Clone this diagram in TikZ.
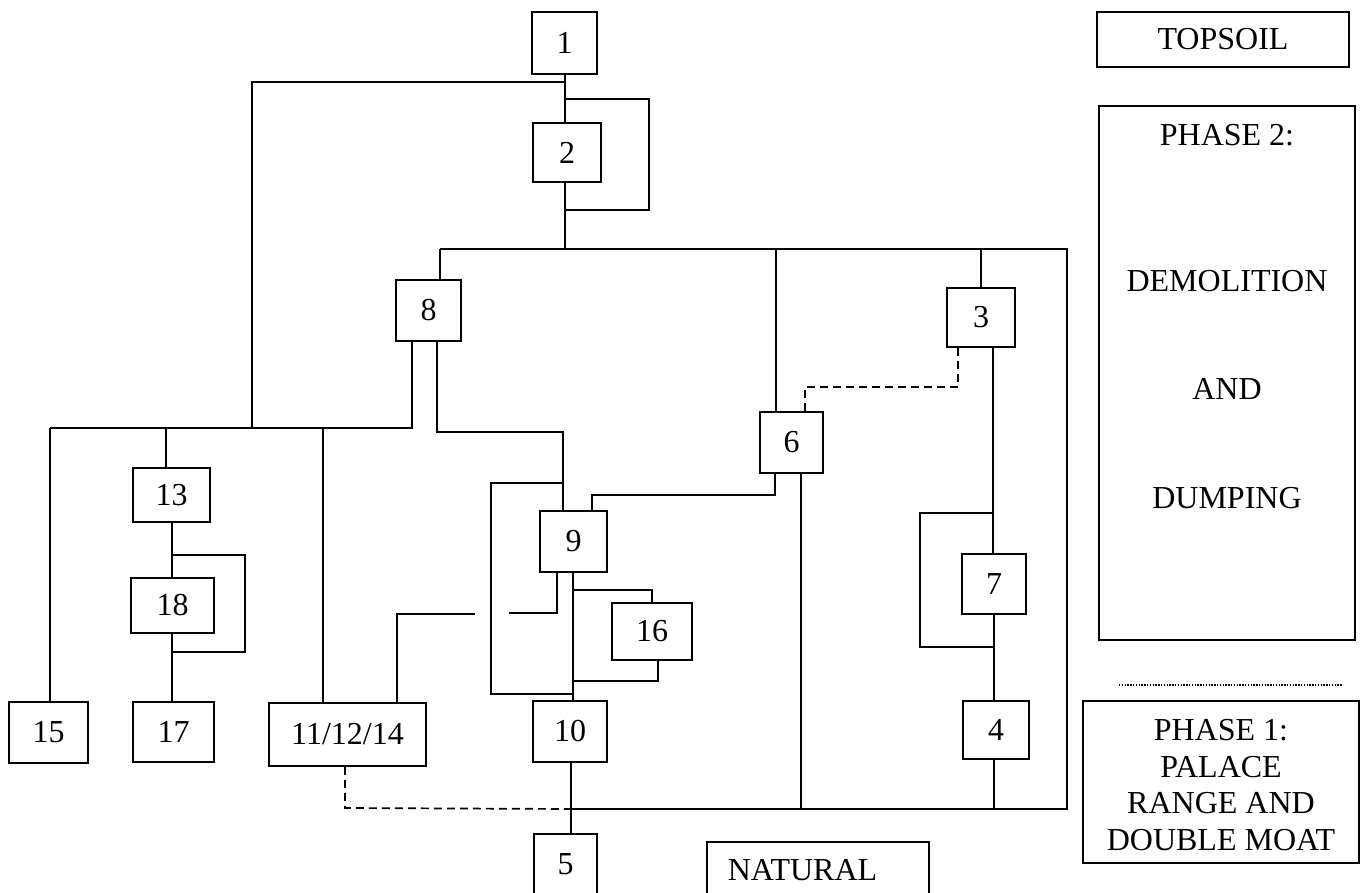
\documentclass[tikz,border=0pt]{standalone}
\usepackage{fontspec}
\setmainfont{Liberation Serif}
\begin{document}
\begin{tikzpicture}[x=1pt,y=-1pt,line width=1.7pt,
  txt/.style={font=\fontsize{32}{36.7}\selectfont, inner sep=0pt},
  box/.style={txt, draw, line width=1.7pt},
  dashline/.style={dash pattern=on 8pt off 5pt},
  dotline/.style={line width=1.4pt, dash pattern=on 1.4pt off 1.4pt}]
\clip (0,0) rectangle (1365,893);

% context boxes
\node[box, minimum width=65pt, minimum height=62pt] (n1) at (564.5,43) {1};
\node[box, minimum width=68pt, minimum height=59pt] (n2) at (567,152.5) {2};
\node[box, minimum width=65pt, minimum height=61pt] (n8) at (428.5,310.5) {8};
\node[box, minimum width=68pt, minimum height=59pt] (n3) at (981,317.5) {3};
\node[box, minimum width=63pt, minimum height=61pt] (n6) at (791.5,442.5) {6};
\node[box, minimum width=77pt, minimum height=54pt] (n13) at (171.5,495) {13};
\node[box, minimum width=83pt, minimum height=55pt] (n18) at (172.5,605.5) {18};
\node[box, minimum width=67pt, minimum height=61pt] (n9) at (573.5,541.5) {9};
\node[box, minimum width=80pt, minimum height=57pt] (n16) at (652,631.5) {16};
\node[box, minimum width=64pt, minimum height=60pt] (n7) at (994,584) {7};
\node[box, minimum width=79pt, minimum height=61pt] (n15) at (48.5,732.5) {15};
\node[box, minimum width=81pt, minimum height=60pt] (n17) at (173.5,732) {17};
\node[box, minimum width=157pt, minimum height=63pt] (n111214) at (347.5,734.5) {11/12/14};
\node[box, minimum width=74pt, minimum height=61pt] (n10) at (570,731.5) {10};
\node[box, minimum width=66pt, minimum height=58pt] (n4) at (996,730) {4};
\node[box, minimum width=63pt, minimum height=60pt] (n5) at (565.5,864) {5};

% natural
\node[box, anchor=north west, minimum width=222pt, minimum height=80pt] (natural) at (706,841) {};
\node[txt, anchor=base west] (naturaltext) at (727,880) {NATURAL};

% key
\node[box, minimum width=252pt, minimum height=55pt] (topsoil) at (1223,39.5) {TOPSOIL};
\node[box, minimum width=256pt, minimum height=534pt] (phase2) at (1227,373) {};
\node[txt] (p2a) at (1227,135) {PHASE 2:};
\node[txt] (p2b) at (1227,281) {DEMOLITION};
\node[txt] (p2c) at (1227,389) {AND};
\node[txt] (p2d) at (1227,498) {DUMPING};
\node[box, minimum width=276pt, minimum height=162pt] (phase1) at (1221,782) {};
\node[txt, align=center] (phase1text) at (1221,785) {PHASE 1:\\PALACE\\RANGE AND\\DOUBLE MOAT};
\coordinate (f1) at (1119,685);
\coordinate (f2) at (1343,685);
\draw[dotline] (f1) -- (f2);

% rails and junctions
\coordinate (r1) at (565,0);
\coordinate (j1) at (565,82);
\coordinate (k1) at (252,82);
\coordinate (k2) at (252,428);
\coordinate (j2) at (565,99);
\coordinate (k3) at (649,210);
\coordinate (j3) at (565,210);
\coordinate (j4) at (565,249);
\coordinate (b1) at (440,249);
\coordinate (b2) at (1067,249);
\coordinate (b3) at (1067,809);
\coordinate (b4) at (571,809);
\coordinate (b5) at (776,249);
\coordinate (b6) at (981,249);
\coordinate (l1) at (50,428);
\coordinate (l2) at (412,428);
\coordinate (l3) at (166,428);
\coordinate (l4) at (323,428);
\coordinate (r2) at (172,0);
\coordinate (j5) at (172,555);
\coordinate (k4) at (245,652);
\coordinate (j6) at (172,652);
\coordinate (p1) at (437,432);
\coordinate (p2) at (563,432);
\coordinate (j7) at (563,483);
\coordinate (k5) at (491,694);
\coordinate (j8) at (573,694);
\coordinate (q1) at (592,495);
\coordinate (q2) at (775,495);
\coordinate (s1) at (801,809);
\coordinate (d1) at (805,387);
\coordinate (d2) at (958,387);
\coordinate (r3) at (993,0);
\coordinate (j9) at (993,513);
\coordinate (k6) at (920,647);
\coordinate (j10) at (993,647);
\coordinate (r4) at (994,809);
\coordinate (r5) at (573,0);
\coordinate (w1) at (557,613);
\coordinate (w2) at (509,613);
\coordinate (x1) at (475,614);
\coordinate (x2) at (397,614);
\coordinate (y1) at (573,590);
\coordinate (y2) at (652,590);
\coordinate (y3) at (658,681);
\coordinate (y4) at (573,681);
\coordinate (e1) at (345,808);

% upper sequence
\draw (n1.south -| r1) -- (n2.north -| r1);
\draw (j1) -- (k1) -- (k2);
\draw (j2) -| (k3) -- (j3);
\draw (n2.south -| r1) -- (j4);
\draw (b1) -- (b2) -- (b3) -- (b4);
\draw (b1) -- (b1 |- n8.north);
\draw (b5) -- (b5 |- n6.north);
\draw (b6) -- (b6 |- n3.north);

% left group
\draw (l1) -- (l2) -- (l2 |- n8.south);
\draw (l1) -- (l1 |- n15.north);
\draw (l3) -- (l3 |- n13.north);
\draw (l4) -- (l4 |- n111214.north);
\draw (n13.south -| r2) -- (n18.north -| r2);
\draw (j5) -| (k4) -- (j6);
\draw (n18.south -| r2) -- (n17.north -| r2);

% central group
\draw (n8.south -| p1) -- (p1) -- (p2) -- (p2 |- n9.north);
\draw (j7) -| (k5) -- (j8);
\draw (n9.north -| q1) -- (q1) -- (q2) -- (q2 |- n6.south);
\draw (n6.south -| s1) -- (s1);
\draw[dashline] (n6.north -| d1) -- (d1) -- (d2) -- (d2 |- n3.south);
\draw (n9.south -| r5) -- (n10.north -| r5);
\draw (n9.south -| w1) -- (w1) -- (w2);
\draw (x1) -- (x2) -- (x2 |- n111214.north);
\draw (y1) -- (y2) -- (y2 |- n16.north);
\draw (n16.south -| y3) -- (y3) -- (y4);
\draw (n10.south -| b4) -- (b4) -- (b4 |- n5.north);
\draw[dashline] (n111214.south -| e1) -- (e1) -- (b4);

% right group
\draw (n3.south -| r3) -- (n7.north -| r3);
\draw (j9) -| (k6) -- (j10);
\draw (n7.south -| r4) -- (n4.north -| r4);
\draw (n4.south -| r4) -- (r4);
\end{tikzpicture}
\end{document}
